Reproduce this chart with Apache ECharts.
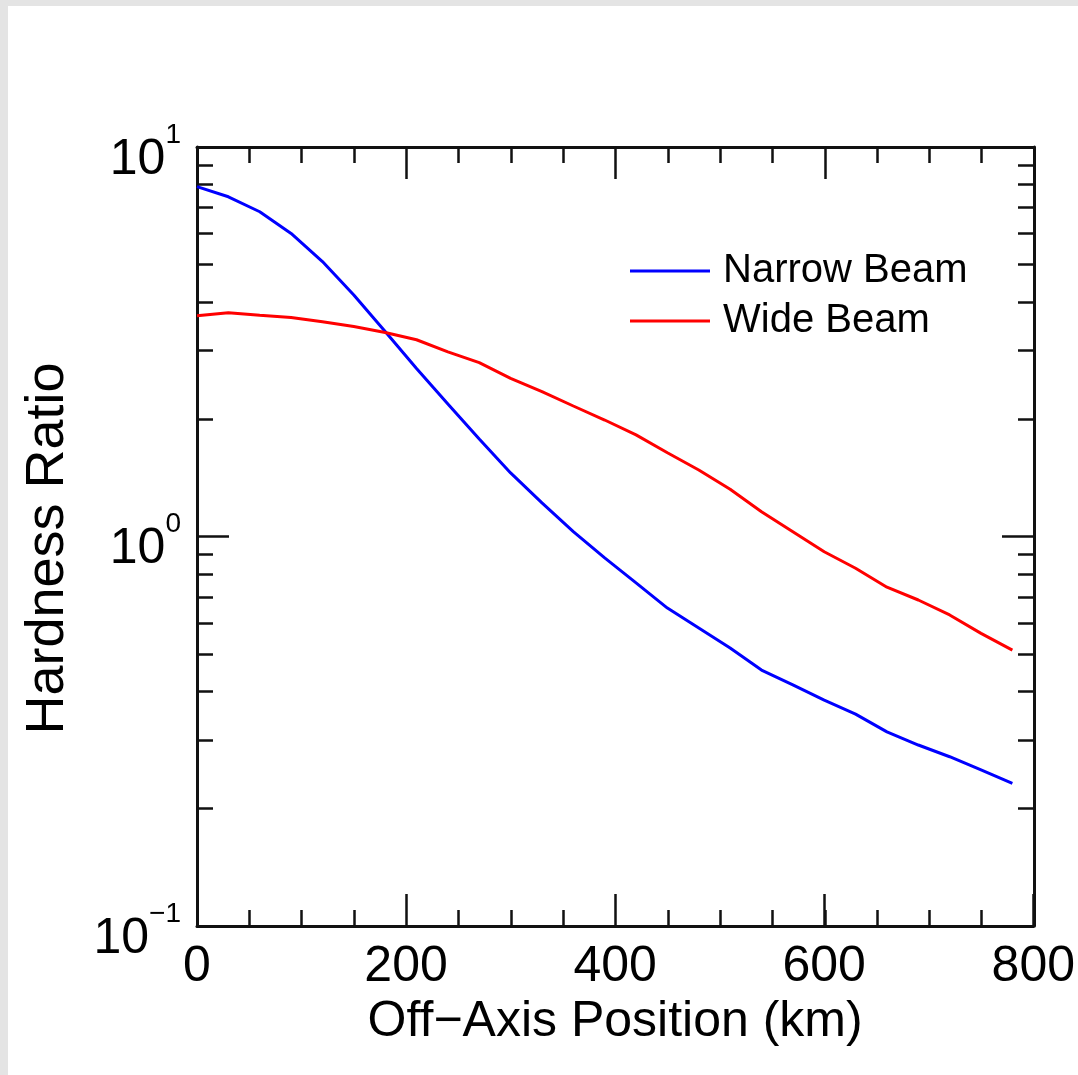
<!DOCTYPE html>
<html>
<head>
<meta charset="utf-8">
<script src="https://cdn.jsdelivr.net/npm/echarts@6/dist/echarts.min.js"></script>
<style>
  html, body { margin: 0; padding: 0; background: #fff; }
  #hardness_chart { width: 1078px; height: 1075px; }
</style>
</head>
<body>
<div id="hardness_chart"></div>
<script>
// off-axis position (km)
var positions = [0, 30, 60, 90, 120, 150, 180, 210, 240, 270, 300, 330, 360, 390,
  420, 450, 480, 510, 540, 570, 600, 630, 660, 690, 720, 750, 780]
// hardness ratio values
var narrowBeam = [7.91, 7.45, 6.82, 6.0, 5.08, 4.17, 3.36, 2.70, 2.19, 1.78, 1.456, 1.22,
  1.029, 0.881, 0.76, 0.655, 0.582, 0.517, 0.454, 0.416, 0.38, 0.35, 0.315, 0.2915,
  0.272, 0.2515, 0.2325]
var wideBeam = [3.69, 3.755, 3.70, 3.65, 3.56, 3.46, 3.34, 3.20, 2.98, 2.795, 2.547, 2.354,
  2.163, 1.991, 1.823, 1.641, 1.482, 1.322, 1.158, 1.029, 0.914, 0.829, 0.741, 0.687,
  0.629, 0.564, 0.511]
var seriesNames = ['Narrow Beam', 'Wide Beam']
var yMajorTicks = [0.1, 1, 10]
var yMinorTicks = [0.2, 0.3, 0.4, 0.5, 0.6, 0.7, 0.8, 0.9, 2, 3, 4, 5, 6, 7, 8, 9]
var xTickLabels = [0, 200, 400, 600, 800]

var FONT = 'Liberation Sans'
var AXIS_COLOR = '#111'

function toPairs (xs, ys) {
  return xs.map(function (x, i) { return [x, ys[i]] })
}

function expLabel (v) {
  var e = Math.round(Math.log10(v))
  var s = e < 0 ? '\u2212' + (-e) : String(e)
  return '{b|10}{s|' + s + '}'
}

// x axis: major or minor ticks, bottom or top
function xAxisDef (gridIndex, position, interval, tickLen, withLine, withLabel) {
  return {
    type: 'value',
    gridIndex: gridIndex,
    position: position,
    min: 0,
    max: 800,
    interval: interval,
    axisLine: { show: withLine, onZero: false, lineStyle: { color: AXIS_COLOR, width: 3 } },
    axisTick: { show: true, inside: true, length: tickLen, lineStyle: { color: AXIS_COLOR, width: 2.5 } },
    splitLine: { show: false },
    axisLabel: {
      show: withLabel,
      margin: 16,
      color: '#000',
      fontFamily: FONT,
      fontSize: 50,
      customValues: xTickLabels,
    },
  }
}

// log y axis, ticks given by a value list
function yAxisDef (gridIndex, position, ticks, tickLen, withLine, withLabel) {
  return {
    type: 'log',
    logBase: 10,
    gridIndex: gridIndex,
    position: position,
    min: 0.1,
    max: 10,
    axisLine: { show: withLine, onZero: false, lineStyle: { color: AXIS_COLOR, width: 3 } },
    axisTick: {
      show: true,
      inside: true,
      length: tickLen,
      customValues: ticks,
      lineStyle: { color: AXIS_COLOR, width: 2.5 },
    },
    splitLine: { show: false },
    minorTick: { show: false },
    axisLabel: {
      show: withLabel,
      margin: 16,
      customValues: yMajorTicks,
      formatter: expLabel,
      padding: [12, 0, 0, 0],
      rich: {
        b: { fontFamily: FONT, fontSize: 50, lineHeight: 64, verticalAlign: 'bottom', color: '#000' },
        s: { fontFamily: FONT, fontSize: 28, lineHeight: 28, verticalAlign: 'top', color: '#000' },
      },
    },
  }
}

var xMain = xAxisDef(0, 'bottom', 200, 32, true, true)
xMain.name = 'Off\u2212Axis Position (km)'
xMain.nameLocation = 'middle'
xMain.nameGap = 70
xMain.nameTextStyle = { fontFamily: FONT, fontSize: 50, color: '#000' }

var yMain = yAxisDef(0, 'left', yMajorTicks, 32, true, true)
yMain.name = 'Hardness Ratio'
yMain.nameLocation = 'middle'
yMain.nameGap = 122
yMain.nameTextStyle = { fontFamily: FONT, fontSize: 54, color: '#000', padding: [0, 24, 0, 0] }

// four identical grids, so each side gets its own major and minor ticks
var gridBox = { left: 197, right: 44, top: 147, bottom: 149, containLabel: false }

var option = {
  animation: false,
  backgroundColor: '#fff',
  grid: [gridBox, gridBox, gridBox, gridBox],
  graphic: [
    { type: 'rect', left: 0, top: 0, shape: { width: 1078, height: 6 }, style: { fill: '#e4e4e4' }, silent: true },
    { type: 'rect', left: 0, top: 0, shape: { width: 8, height: 1075 }, style: { fill: '#e4e4e4' }, silent: true },
  ],
  legend: {
    orient: 'vertical',
    left: 630,
    top: 251,
    padding: 0,
    itemWidth: 80,
    itemHeight: 3,
    itemGap: 10,
    icon: 'rect',
    data: seriesNames,
    textStyle: { fontFamily: FONT, fontSize: 40, color: '#000', lineHeight: 40, padding: [0, 0, 0, 8] },
  },
  xAxis: [
    xMain,
    xAxisDef(1, 'bottom', 50, 16, false, false),
    xAxisDef(2, 'top', 200, 32, true, false),
    xAxisDef(3, 'top', 50, 16, false, false),
  ],
  yAxis: [
    yMain,
    yAxisDef(1, 'left', yMinorTicks, 16, false, false),
    yAxisDef(2, 'right', yMajorTicks, 32, true, false),
    yAxisDef(3, 'right', yMinorTicks, 16, false, false),
  ],
  series: [
    {
      name: seriesNames[0],
      type: 'line',
      xAxisIndex: 0,
      yAxisIndex: 0,
      showSymbol: false,
      lineStyle: { color: '#0000ff', width: 3 },
      itemStyle: { color: '#0000ff' },
      data: toPairs(positions, narrowBeam),
    },
    {
      name: seriesNames[1],
      type: 'line',
      xAxisIndex: 0,
      yAxisIndex: 0,
      showSymbol: false,
      lineStyle: { color: '#ff0000', width: 3 },
      itemStyle: { color: '#ff0000' },
      data: toPairs(positions, wideBeam),
    },
  ],
}

var myChart = echarts.init(document.getElementById('hardness_chart'), null, { renderer: 'canvas' })
myChart.setOption(option)
</script>
</body>
</html>
